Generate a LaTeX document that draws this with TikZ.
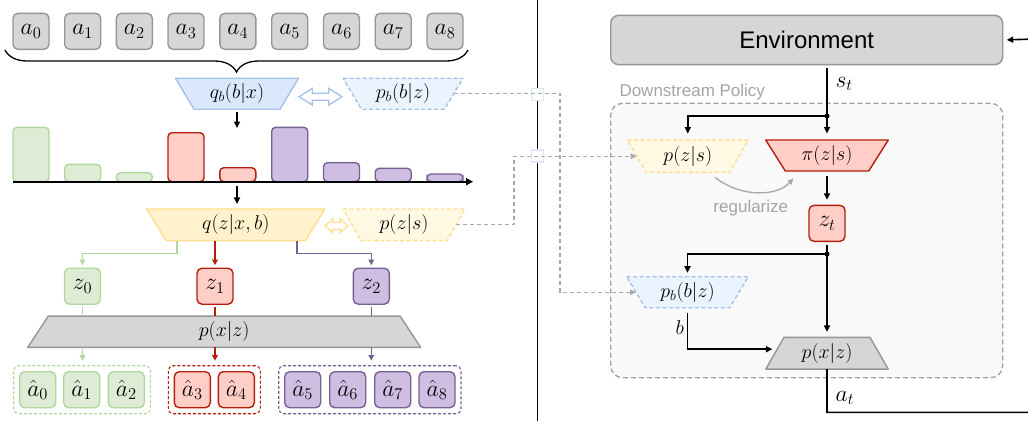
\RequirePackage{fix-cm}
\documentclass[tikz,border=0pt]{standalone}
\usepackage{fontspec}
\setsansfont{Liberation Sans}
\usetikzlibrary{arrows.meta,calc,decorations.pathreplacing,shapes.arrows,fit}
\pgfdeclarelayer{bg}
\pgfdeclarelayer{shapes}
\pgfsetlayers{bg,shapes,main}

\definecolor{grayF}{RGB}{214,214,214}
\definecolor{grayD}{RGB}{150,150,150}
\definecolor{greenF}{RGB}{222,236,213}
\definecolor{greenD}{RGB}{178,215,158}
\definecolor{redF}{RGB}{255,206,199}
\definecolor{redD}{RGB}{180,30,12}
\definecolor{purF}{RGB}{207,190,225}
\definecolor{purD}{RGB}{118,96,148}
\definecolor{yelF}{RGB}{255,242,204}
\definecolor{yelD}{RGB}{255,224,145}
\definecolor{yelL}{RGB}{255,249,228}
\definecolor{bluF}{RGB}{218,232,252}
\definecolor{bluD}{RGB}{165,194,235}
\definecolor{bluL}{RGB}{234,244,255}
\definecolor{dashG}{RGB}{168,168,168}
\definecolor{dsF}{RGB}{249,249,249}
\definecolor{dsD}{RGB}{160,160,160}
\definecolor{dsT}{RGB}{165,165,165}
\definecolor{bridgeD}{RGB}{221,230,245}

% trapezoid outline around a named node: top edge widened by #3, bottom narrowed by #3
\newcommand\trapfill[3]{%
  \begin{pgfonlayer}{shapes}
    \path[#2] ($(#1.north west)+({-(#3)},0)$) -- ($(#1.north east)+(#3,0)$)
      -- ($(#1.south east)+({-(#3)},0)$) -- ($(#1.south west)+(#3,0)$) -- cycle;
  \end{pgfonlayer}}

\tikzset{
  x=1pt, y=-1pt,
  every node/.style={inner sep=0pt, outer sep=0pt},
  box/.style={rounded corners=5pt, minimum width=36pt, minimum height=36pt,
    line width=1.4pt, font=\fontsize{23.5}{25}\selectfont},
  graybox/.style={box, draw=grayD, fill=grayF},
  greenbox/.style={box, draw=greenD, fill=greenF},
  redbox/.style={box, draw=redD, fill=redF},
  purbox/.style={box, draw=purD, fill=purF},
  hbar/.style={rounded corners=4pt, minimum width=36pt, line width=1.4pt, anchor=south},
  hgreen/.style={hbar, draw=greenD, fill=greenF},
  hred/.style={hbar, draw=redD, fill=redF},
  hpur/.style={hbar, draw=purD, fill=purF},
  trapbox/.style={font=\fontsize{20}{22}\selectfont},
  tline/.style={line width=1.4pt, line join=round},
  tdash/.style={tline, dash pattern=on 4pt off 2.5pt},
  tblue/.style={tline, draw=bluD, fill=bluF},
  tbluedash/.style={tdash, draw=bluD, fill=bluL},
  tyel/.style={tline, draw=yelD, fill=yelF},
  tyeldash/.style={tdash, draw=yelD, fill=yelL},
  tred/.style={tline, draw=redD, fill=redF},
  tgray/.style={tline, draw=grayD, fill=grayF},
  dblarrow/.style={double arrow, fill=white, line width=1.3pt, inner xsep=0pt,
    inner ysep=2.8pt, double arrow head extend=4.8pt, double arrow tip angle=64,
    minimum height=43pt},
  arr/.style={line width=1.6pt, -{Triangle[length=6.5pt,width=6pt]}},
  carr/.style={line width=1.4pt, -{Triangle[length=5.5pt,width=5.5pt]}},
  cline/.style={line width=1.4pt},
  dasharr/.style={draw=dashG, line width=1.3pt, dash pattern=on 4pt off 3pt,
    -{Triangle[length=6pt,width=5.5pt]}},
  grp/.style={inner sep=6pt, rounded corners=5pt, line width=1.1pt,
    dash pattern=on 3pt off 2pt},
  dot/.style={circle, fill=black, minimum size=5pt},
  bridge/.style={draw=bridgeD, fill=white, line width=1.5pt, minimum size=12pt},
  lbl/.style={font=\fontsize{23.5}{25}\selectfont},
}

\begin{document}
\begin{tikzpicture}
\useasboundingbox (0,0) rectangle (1028,421);
\clip (0,0) rectangle (1028,421);
\begin{pgfonlayer}{bg}
  \fill[white] (0,0) rectangle (1028,421);
\end{pgfonlayer}

% ---------------- left: action chunk tokenisation ----------------
\foreach \i/\x in {0/31,1/82.7,2/134.3,3/186,4/237.8,5/289.7,6/341.5,7/393.2,8/445}
  \node[graybox] (a\i) at (\x,31.3) {$a_{\i}$};

\coordinate (brL) at (5,50);
\coordinate (brR) at (468,50);
\draw[line width=1.3pt, decorate, decoration={brace, amplitude=22pt}] (brR) -- (brL);

\node[trapbox, minimum width=104.5pt, minimum height=31pt] (qb) at (237,93.7) {$q_b(b|x)$};
\trapfill{qb}{tblue}{9.25}
\node[trapbox, minimum width=101.5pt, minimum height=31pt] (pbL) at (403,93.7) {$p_b(b|z)$};
\trapfill{pbL}{tbluedash}{9.25}
\node[dblarrow, draw=bluD] (dqb) at (320.5,96.7) {};

% histogram of the segment boundaries
\foreach \i/\x/\yy/\s in {0/31/127.3/hgreen, 1/82.7/164.3/hgreen, 2/134.3/172.7/hgreen,
    3/186/132.7/hred, 4/237.8/167.7/hred, 5/289.7/127.3/hpur, 6/341.5/162.7/hpur,
    7/393.2/168.3/hpur, 8/445/174/hpur}
  \node[\s, minimum height={181.7-\yy}] (h\i) at (\x,181.7) {};
\coordinate (axL) at (12.7,181.7);
\coordinate (axR) at (473,181.7);
\draw[line width=1.6pt, -{Triangle[length=7pt,width=7pt]}] (axL) -- (axR);

\coordinate (histtop) at (237,128);
\coordinate (histbot) at (237,186);
\draw[arr, shorten <=3pt] (qb.south) -- (histtop);

\node[trapbox, minimum width=158.8pt, minimum height=31.7pt] (q) at (235.8,224.8) {$q(z|x,b)$};
\trapfill{q}{tyel}{9.75}
\node[trapbox, minimum width=104pt, minimum height=31.7pt] (pzsL) at (404,224.8) {$p(z|s)$};
\trapfill{pzsL}{tyeldash}{8.9}
\node[dblarrow, draw=yelD, minimum height=23pt, double arrow head extend=3.4pt,
  double arrow tip angle=84] (dq) at (336.5,225.7) {};
\draw[arr, shorten >=5pt] (histbot) -- (q.north -| histbot);

% latent codes
\node[greenbox] (z0) at (82.5,286.2) {$z_0$};
\node[redbox] (z1) at (215,286.2) {$z_1$};
\node[purbox] (z2) at (371.3,286.2) {$z_2$};
\draw[carr, greenD, shorten >=3pt] ($(q.south)+(-59,0)$) -- ++(0,12.6) -| (z0.north);
\draw[carr, redD, shorten >=3pt] (q.south -| z1) -- (z1.north);
\draw[carr, purD, shorten >=3pt] ($(q.south)+(61,0)$) -- ++(0,12.6) -| (z2.north);

\node[trapbox, minimum width=372.3pt, minimum height=31.3pt] (pxL) at (224.2,331.7) {$p(x|z)$};
\trapfill{pxL}{tgray}{-10.3}

% reconstructed actions
\foreach \i/\x/\s in {0/37.7/greenbox, 1/81.7/greenbox, 2/126.3/greenbox,
    3/192.3/redbox, 4/236.3/redbox, 5/302.7/purbox, 6/347.7/purbox,
    7/392.7/purbox, 8/437/purbox}
  \node[\s] (ah\i) at (\x,389.7) {$\hat{a}_{\i}$};
\node[grp, draw=greenD, fit=(ah0)(ah2)] (g0) {};
\node[grp, draw=redD, fit=(ah3)(ah4)] (g1) {};
\node[grp, draw=purD, fit=(ah5)(ah8)] (g2) {};

\foreach \z/\c/\g in {z0/greenD/g0, z1/redD/g1, z2/purD/g2} {
  \draw[cline, \c, shorten <=3pt] (\z.south) -- (\z.south |- pxL.north);
  \draw[carr, \c, shorten >=5pt] (\z.south |- pxL.south) -- (\z.south |- \g.north);
}

% divider
\coordinate (dvT) at (537.7,0);
\coordinate (dvB) at (537.7,421);
\draw[line width=1.3pt] (dvT) -- (dvB);
\node[bridge] (br1) at (537.7,94.5) {};
\node[bridge] (br2) at (537.7,156.2) {};

% ---------------- right: downstream policy ----------------
\node[rounded corners=8pt, draw=grayD, fill=grayF, line width=1.4pt,
  minimum width=392pt, minimum height=49.3pt, text depth=0pt,
  font=\sffamily\fontsize{24}{28}\selectfont] (env) at (806.7,40) {Environment};

\begin{pgfonlayer}{bg}
  \node[draw=dsD, fill=dsF, dash pattern=on 5pt off 3pt, rounded corners=12pt,
    line width=1.3pt, minimum width=392pt, minimum height=274.4pt] (ds) at (806.7,240.5) {};
\end{pgfonlayer}
\node[anchor=base west, text=dsT, font=\sffamily\fontsize{17}{20}\selectfont] (dsl)
  at (619.5,96) {Downstream Policy};

\node[trapbox, minimum width=102.2pt, minimum height=32.3pt] (pzsR) at (687.8,156.2) {$p(z|s)$};
\trapfill{pzsR}{tyeldash}{9.4}
\node[trapbox, minimum width=103pt, minimum height=31pt] (pi) at (827,155.5) {$\pi(z|s)$};
\trapfill{pi}{tred}{9.8}
\node[redbox] (zt) at (827,223.3) {$z_t$};
\node[trapbox, minimum width=103pt, minimum height=31pt] (pbR) at (687.5,292.2) {$p_b(b|z)$};
\trapfill{pbR}{tbluedash}{9.3}
\node[trapbox, minimum width=104.2pt, minimum height=31.7pt] (pxR) at (827,353.2) {$p(x|z)$};
\trapfill{pxR}{tgray}{-9.1}

\node[dot] (j1) at (827,116) {};
\node[dot] (j2) at (827,254) {};

\draw[arr, shorten <=3.4pt, shorten >=6.5pt] (env.south -| j1) -- (pi.north);
\node[lbl, anchor=base west] (st) at (835.5,87.3) {$s_t$};
\draw[arr, shorten >=6.5pt] (j1.center) -| (pzsR.north);
\draw[arr, shorten <=5pt, shorten >=5.5pt] (pi.south) -- (zt.north);
\draw[arr, shorten <=4pt, shorten >=5.5pt] (zt.south) -- (pxR.north);
\draw[arr, shorten >=4pt] (j2.center) -| (pbR.north);
\coordinate (pxin) at ($(pxR.west)+(0,-4)$);
\draw[arr, shorten <=5pt, shorten >=2.5pt] (pbR.south) |- (pxin);
\node[font=\fontsize{20}{22}\selectfont, anchor=base east] (blab) at (684,334.3) {$b$};

\draw[line width=1.3pt, dashG, -{Triangle[length=6pt,width=5.5pt]}]
  ($(pzsR.south)+(27.2,5)$) .. controls ($(pzsR.south)+(54,26)$) and ($(pi.south)+(-49,25)$)
  .. ($(pi.south)+(-33.7,7.3)$);
\node[anchor=base, text=dsT, font=\sffamily\fontsize{17}{20}\selectfont] (reg)
  at (750.8,212.7) {regularize};

% action fed back to the environment
\coordinate (loopB) at (1045,412.3);
\coordinate (loopT) at (1045,38.7);
\draw[arr, shorten >=4pt] (pxR.south) |- (loopB) -- (loopT) -- (env.east);
\node[lbl, anchor=base west] (at) at (835.7,401) {$a_t$};

% links from the pretrained modules into the policy
\coordinate (jx1) at (560,0);
\coordinate (jx2) at (514,0);
\draw[dasharr] (pbL.east) -- (pbL.east -| jx1) |- (pbR.west);
\draw[dasharr] (pzsL.east) -- (pzsL.east -| jx2) |- (pzsR.west);
\end{tikzpicture}
\end{document}
